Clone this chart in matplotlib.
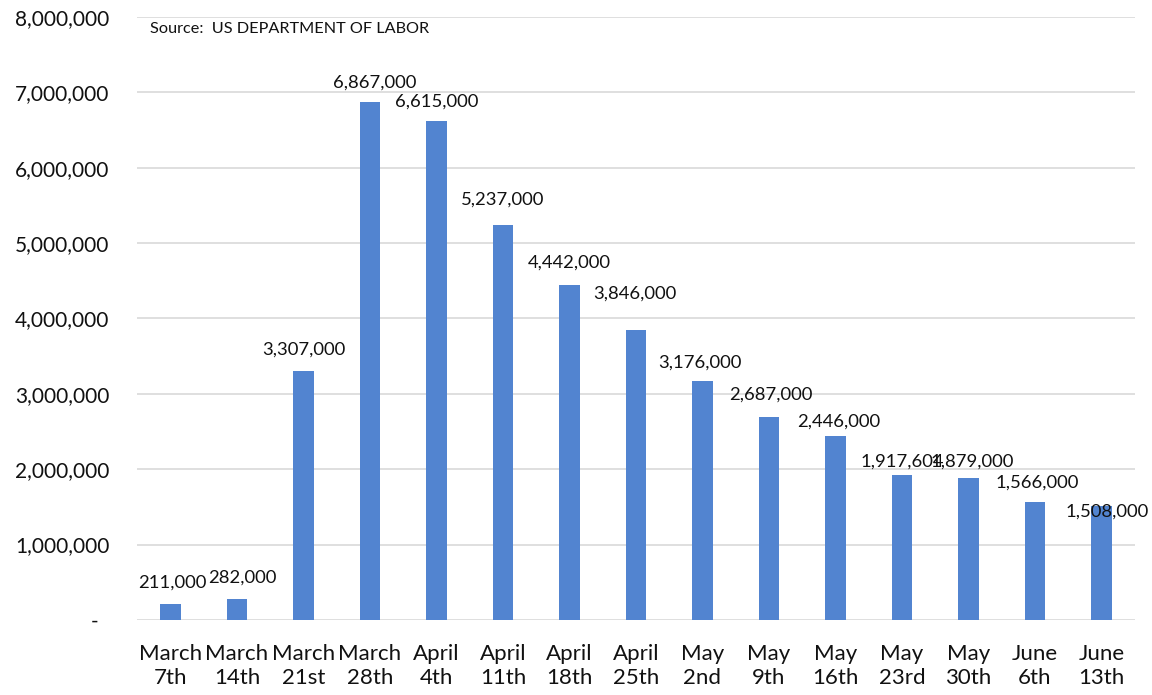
import matplotlib.pyplot as plt
import numpy as np
from matplotlib.ticker import FuncFormatter

weeks = ['March\n7th', 'March\n14th', 'March\n21st', 'March\n28th', 'April\n4th',
         'April\n11th', 'April\n18th', 'April\n25th', 'May\n2nd', 'May\n9th',
         'May\n16th', 'May\n23rd', 'May\n30th', 'June\n6th', 'June\n13th']
claims = [211000, 282000, 3307000, 6867000, 6615000, 5237000, 4442000, 3846000,
          3176000, 2687000, 2446000, 1917604, 1879000, 1566000, 1508000]
labels = ['211,000', '282,000', '3,307,000', '6,867,000', '6,615,000', '5,237,000',
          '4,442,000', '3,846,000', '3,176,000', '2,687,000', '2,446,000',
          '1,917,604', '1,879,000', '1,566,000', '1,508,000']

# label offsets from bar top, in pixels (dx, dy up)
lab_dx = [2, 5, 0, 5, 0, 0, 0, -1, -2, 2, 3, 0, 4, 2, 6]
lab_dy = [21, 21, 21, 20, 20, 26, 23, 36, 18, 23, 14, 14, 17, 19, -5]

plt.rcParams['font.family'] = ['Lato', 'DejaVu Sans']

fig = plt.figure(figsize=(11.52, 6.95), dpi=100)
ax = fig.add_axes([0.119, 0.108, 0.866, 0.8675])

x = np.arange(len(weeks))
ax.bar(x, claims, width=0.31, color='#5284D0', zorder=3)

for i in range(len(claims)):
    ax.annotate(labels[i], (x[i], claims[i]),
                xytext=(lab_dx[i] * 0.72, lab_dy[i] * 0.72), textcoords='offset points',
                ha='center', va='center', fontsize=13.3, color='#111111', zorder=4)

ax.set_xlim(-0.5, len(weeks) - 0.5)
ax.set_ylim(0, 8000000)
ax.set_yticks(np.arange(0, 8000001, 1000000))
ax.yaxis.set_major_formatter(FuncFormatter(lambda v, p: '-  ' if v == 0 else f'{int(v):,}'))
ax.set_xticks(x)
ax.set_xticklabels(weeks, linespacing=1.3)

ax.grid(axis='y', color='#D9D9D9', linewidth=1.2, zorder=0)
for s in ax.spines.values():
    s.set_visible(False)
ax.tick_params(axis='both', length=0, colors='#111111')
ax.tick_params(axis='y', pad=20, labelsize=15)
ax.tick_params(axis='x', pad=17, labelsize=16)

fig.text(150 / 1152, 1 - 29 / 695, 'Source:  US DEPARTMENT OF LABOR',
         fontsize=11.7, va='center', ha='left', color='#111111')

fig.savefig('out.png', dpi=100)
